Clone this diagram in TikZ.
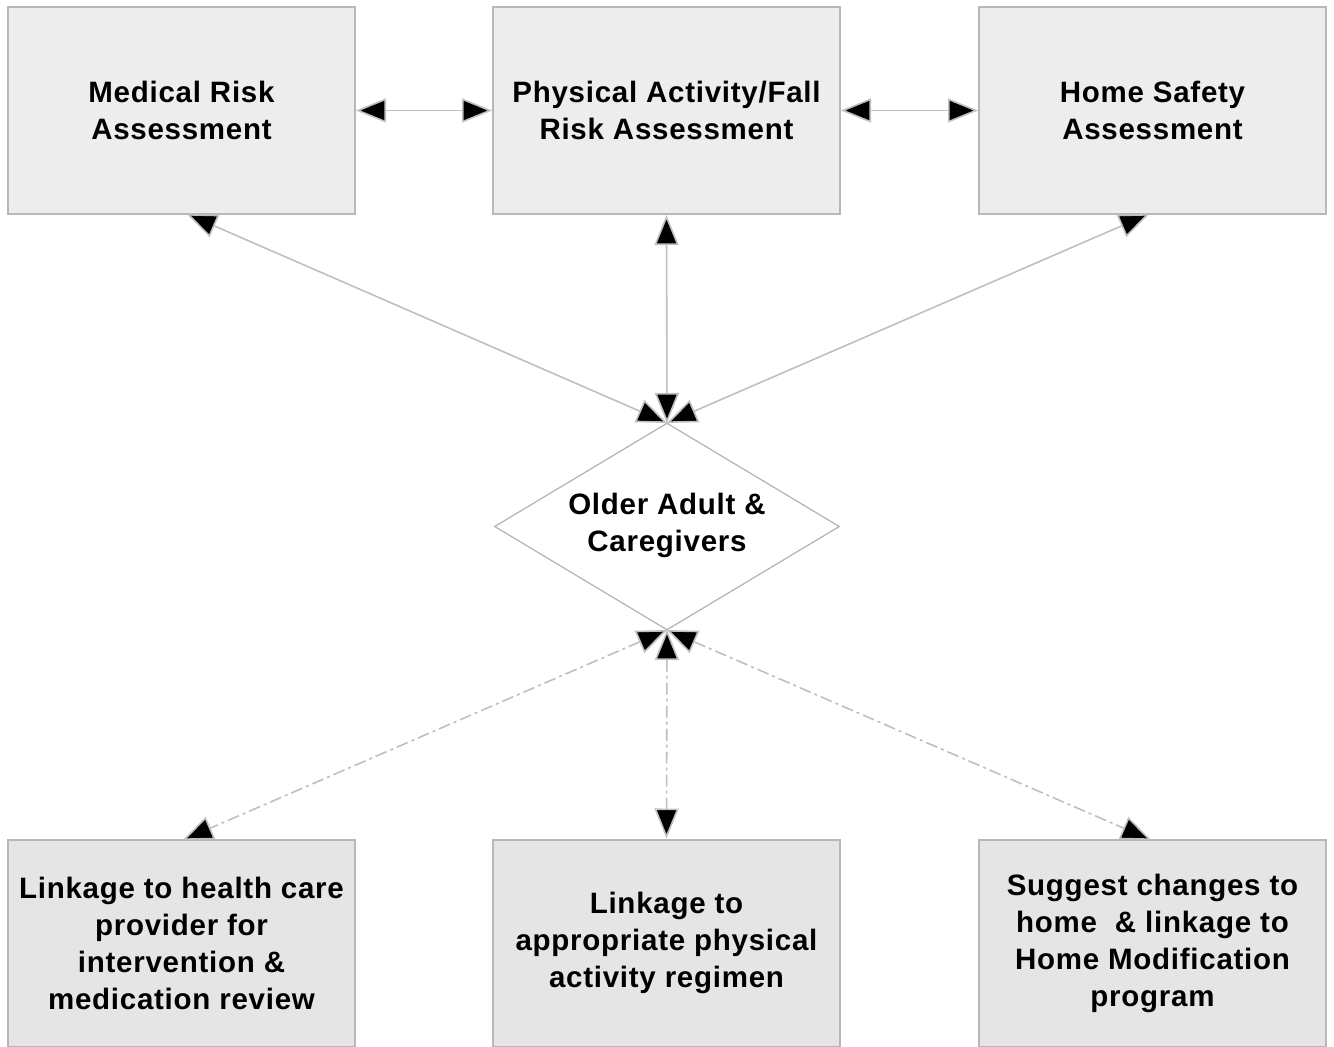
\documentclass[tikz,border=0pt]{standalone}
\usepackage{fontspec}
\setmainfont{Liberation Sans}[LetterSpace=2.5]
\usetikzlibrary{arrows.meta,shapes.geometric}
\begin{document}
\begin{tikzpicture}[x=1pt,y=-1pt,
  box/.style={draw=black!28,line width=2pt,minimum width=347pt,minimum height=207pt,inner sep=0pt,align=center,font=\fontsize{29.5}{37}\selectfont\bfseries},
  topbox/.style={box,fill=black!7},
  botbox/.style={box,fill=black!10},
  conn/.style={draw=black!25,line width=1.6pt,{Triangle[length=30pt,width=24pt,fill=black]}-{Triangle[length=30pt,width=24pt,fill=black]}},
  dconn/.style={conn,dash pattern=on 12pt off 4pt on 3pt off 4pt}
]
\useasboundingbox (0,0) rectangle (1334,1047);
\node[topbox] (med) at (181.5,110.5) {Medical Risk\\Assessment};
\node[topbox] (pa) at (666.5,110.5) {Physical Activity/Fall\\Risk Assessment};
\node[topbox] (home) at (1152.5,110.5) {Home Safety\\Assessment};
\node[botbox] (lhc) at (181.5,943) {Linkage to health care\\provider for\\intervention \&\\medication review};
\node[botbox] (lpa) at (666.5,943) {Linkage to\\appropriate physical\\activity regimen};
\node[botbox] (sug) at (1152.5,943) {Suggest changes to\\home\ \ \& linkage to\\Home Modification\\program};
\node[diamond,draw=black!30,line width=1.2pt,fill=white,minimum width=345pt,minimum height=207pt,inner sep=0pt,aspect=1.67] (old) at (667,526.5) {};
\node[align=center,font=\fontsize{29.5}{37}\selectfont\bfseries] (oldt) at (667,525) {Older Adult \&\\Caregivers};
\coordinate (dtop) at (667,423);
\coordinate (dbot) at (667,630);
\coordinate (medb) at (187,214);
\coordinate (homeb) at (1149,214);
\coordinate (lhct) at (183,840);
\coordinate (sugt) at (1151,840);
\draw[conn] (med.east) -- (pa.west);
\draw[conn] (pa.east) -- (home.west);
\draw[conn] (medb) -- (dtop);
\draw[conn] (pa.south) -- (dtop);
\draw[conn] (homeb) -- (dtop);
\draw[dconn] (dbot) -- (lhct);
\draw[dconn] (dbot) -- (lpa.north);
\draw[dconn] (dbot) -- (sugt);
\end{tikzpicture}
\end{document}
